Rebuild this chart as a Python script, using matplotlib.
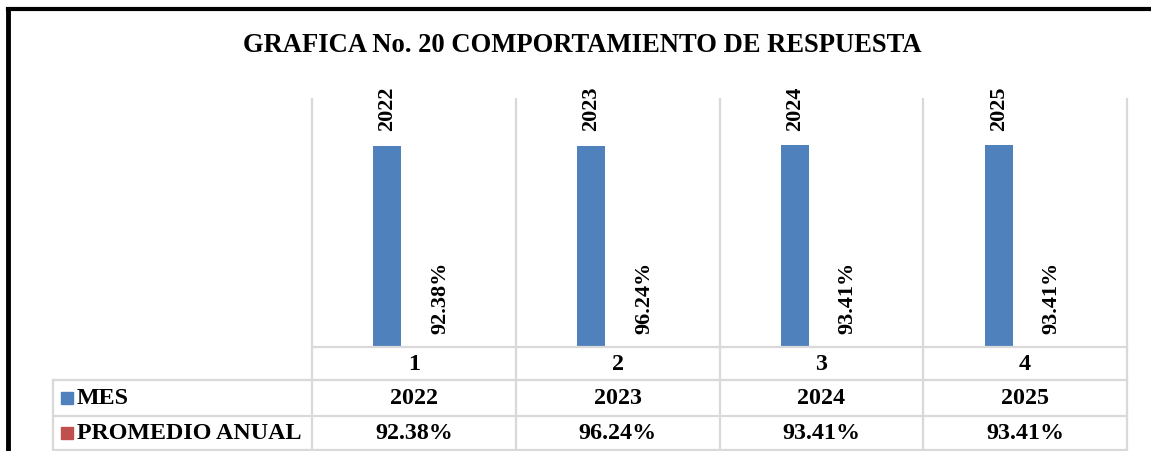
import matplotlib.pyplot as plt
from matplotlib.lines import Line2D
from matplotlib.patches import Rectangle

plt.rcParams["font.family"] = ["Liberation Serif", "DejaVu Serif"]
plt.rcParams["font.weight"] = "bold"

categories = ["1", "2", "3", "4"]
mes = [2022, 2023, 2024, 2025]
promedio = [0.9238, 0.9624, 0.9341, 0.9341]
mes_labels = ["2022", "2023", "2024", "2025"]
promedio_labels = ["92.38%", "96.24%", "93.41%", "93.41%"]

blue = "#4f81bd"
red = "#c0504d"
grid = "#d9d9d9"

W, H = 1151, 452
fig = plt.figure(figsize=(W / 100, H / 100), dpi=100)

# plot area in pixels
px_left, px_right, px_top, px_bot = 312, 1127, 99, 348
ax = fig.add_axes([px_left / W, 1 - px_bot / H, (px_right - px_left) / W, (px_bot - px_top) / H])

n = len(categories)
x = list(range(1, n + 1))
bw = 0.137
off = 0.130
ax.bar([i - off for i in x], mes, width=bw, color=blue)
ax.bar([i + off for i in x], promedio, width=bw, color=red)
ax.set_xlim(0.5, n + 0.5)
ax.set_ylim(0, 2500)
ax.axis("off")

for i, v, lab in zip(x, mes, mes_labels):
    ax.annotate(lab, (i - off, v), xytext=(0, 11), textcoords="offset points",
                rotation=90, ha="center", va="bottom", fontsize=16, fontweight="bold")
for i, v, lab in zip(x, promedio, promedio_labels):
    ax.annotate(lab, (i + off, v), xytext=(0, 10), textcoords="offset points",
                rotation=90, ha="center", va="bottom", fontsize=16, fontweight="bold")

# data table below the plot (axes-fraction y)
def yf(py):
    return (px_bot - py) / (px_bot - px_top)

cw = (px_right - px_left) / n
def xd(px):
    return 0.5 + (px - px_left) / cw

rows = [348, 381, 417, 451]
lw = 1.6
tr = ax.get_xaxis_transform()
for b in range(n + 1):
    ax.plot([b + 0.5, b + 0.5], [yf(px_top), yf(rows[-1])], color=grid, lw=lw,
            transform=tr, clip_on=False, solid_capstyle="butt")
ax.plot([0.5, n + 0.5], [0, 0], color=grid, lw=lw, transform=tr, clip_on=False)
leg_left = xd(53)
for r in rows[1:]:
    ax.plot([leg_left, n + 0.5], [yf(r), yf(r)], color=grid, lw=lw,
            transform=tr, clip_on=False)
ax.plot([leg_left, leg_left], [yf(rows[1]), yf(rows[-1])], color=grid, lw=lw,
        transform=tr, clip_on=False)

fs = 17.3
for i, c, m, p in zip(x, categories, mes_labels, promedio_labels):
    ax.text(i, yf(365), c, ha="center", va="center", fontsize=fs, transform=tr, clip_on=False)
    ax.text(i, yf(399), m, ha="center", va="center", fontsize=fs, transform=tr, clip_on=False)
    ax.text(i, yf(434), p, ha="center", va="center", fontsize=fs, transform=tr, clip_on=False)

# legend keys in the table
for name, col, cy in [("MES", blue, 399), ("PROMEDIO ANUAL", red, 434)]:
    fig.add_artist(Rectangle((61 / W, 1 - (cy + 6) / H), 12 / W, 12 / H,
                             transform=fig.transFigure, color=col))
    fig.text(77 / W, 1 - cy / H, name, ha="left", va="center", fontsize=fs)

fig.text(582 / W, 1 - 46 / H, "GRAFICA No. 20 COMPORTAMIENTO DE RESPUESTA",
         ha="center", va="center", fontsize=19.2, fontweight="bold")

# chart border
fig.add_artist(Line2D([8 / W, 1.0], [1 - 10 / H, 1 - 10 / H], color="black", lw=3,
                      transform=fig.transFigure))
fig.add_artist(Line2D([8 / W, 8 / W], [1 - 10 / H, 0], color="black", lw=3.5,
                      transform=fig.transFigure))

fig.savefig("out.png", dpi=100, facecolor="white")
